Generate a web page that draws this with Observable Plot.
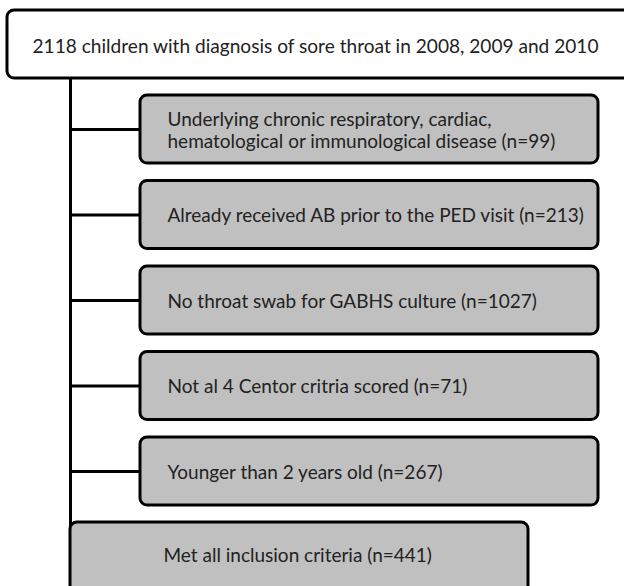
<!DOCTYPE html>
<html>
<head>
<meta charset="utf-8">
<script src="https://cdn.jsdelivr.net/npm/d3@7"></script>
<script src="https://cdn.jsdelivr.net/npm/@observablehq/plot@0.6"></script>
<style>
  html, body { margin: 0; padding: 0; background: #fff; }
  #chart svg { display: block; }
</style>
</head>
<body>
<div id="chart"></div>
<script>
// ---- data ----
const totalLabel = "2118 children with diagnosis of sore throat in 2008, 2009 and 2010";
const exclusionLabels = [
  "Underlying chronic respiratory, cardiac,\nhematological or immunological disease",
  "Already received AB prior to the PED visit",
  "No throat swab for GABHS culture",
  "Not al 4 Centor critria scored",
  "Younger than 2 years old"
];
const exclusionCounts = [99, 213, 1027, 71, 267];
const includedLabel = "Met all inclusion criteria";
const includedCount = 441;

// ---- layout ----
const W = 624, H = 586;
const font = "Lato, 'Open Sans', sans-serif";
const fs = 19;
const spineX = 70;
const boxX1 = 140, boxX2 = 598;
const rowTop = i => 95 + i * 85.5;
const rowH = 68;

const rows = exclusionLabels.map((label, i) => ({
  label: `${label} (n=${exclusionCounts[i]})`,
  y1: rowTop(i), y2: rowTop(i) + rowH, yc: rowTop(i) + rowH / 2
}));

const topBox = [{x1: 7, x2: 660, y1: 10, y2: 78, label: totalLabel}];
const finalBox = [{x1: spineX, x2: 528, y1: 522, y2: 600, label: `${includedLabel} (n=${includedCount})`}];

const chart = Plot.plot({
  width: W, height: H, margin: 0,
  style: {fontFamily: font, background: "#fff"},
  x: {type: "linear", domain: [0, W], range: [0, W], axis: null},
  y: {type: "linear", domain: [0, H], range: [0, H], axis: null},
  marks: [
    // spine
    Plot.ruleX([spineX], {y1: 78, y2: 560, stroke: "#000", strokeWidth: 3}),
    // connectors
    Plot.ruleY(rows, {y: "yc", x1: spineX, x2: boxX1, stroke: "#000", strokeWidth: 3}),
    // top box
    Plot.rect(topBox, {x1: "x1", x2: "x2", y1: "y1", y2: "y2", fill: "#fff", stroke: "#000", strokeWidth: 3, rx: 7}),
    Plot.text(topBox, {x: 32, y: 46, text: "label", textAnchor: "start", fontSize: 19.1, fill: "#222"}),
    // exclusion boxes
    Plot.rect(rows, {x1: boxX1, x2: boxX2, y1: "y1", y2: "y2", fill: "#c0c0c0", stroke: "#000", strokeWidth: 3, rx: 7}),
    Plot.text(rows, {x: 167, y: "yc", text: "label", textAnchor: "start", fontSize: fs, lineHeight: 1.16, fill: "#222"}),
    // final box
    Plot.rect(finalBox, {x1: "x1", x2: "x2", y1: "y1", y2: "y2", fill: "#c0c0c0", stroke: "#000", strokeWidth: 3, rx: 7}),
    Plot.text(finalBox, {x: 163, y: 555, text: "label", textAnchor: "start", fontSize: fs, fill: "#222"})
  ]
});
document.getElementById("chart").appendChild(chart);
</script>
</body>
</html>
